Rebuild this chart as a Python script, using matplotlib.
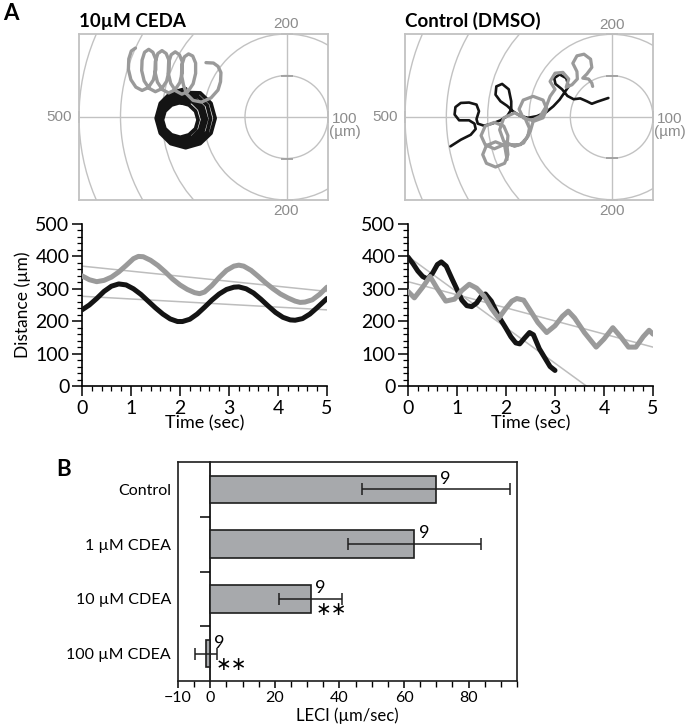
import matplotlib
matplotlib.use('Agg')
import matplotlib.pyplot as plt
import numpy as np
from matplotlib.patches import Circle
from matplotlib.ticker import MultipleLocator

plt.rcParams['font.family'] = ['Lato', 'DejaVu Sans']

# ---------------- panel A: tracks around the target (um) ----------------
ring_radii = [100, 200, 300, 400, 500]

ceda_gray_x = [-364, -374, -380, -381, -375, -363, -348, -333, -321, -315, -315, -322,
               -332, -342, -348, -349, -343, -331, -316, -301, -289, -283, -283, -290,
               -300, -310, -316, -317, -311, -299, -284, -269, -257, -251, -251, -258,
               -268, -278, -284, -285, -279, -267, -252, -237, -225, -219, -219, -226,
               -236, -246, -252, -253, -248, -240, -225, -205, -182, -165, -159, -158,
               -165, -176, -194]
ceda_gray_y = [166, 159, 140, 115, 90, 72, 64, 71, 89, 114, 139, 156,
               163, 156, 137, 112, 87, 69, 61, 68, 86, 111, 136, 153,
               160, 153, 134, 109, 84, 66, 58, 65, 83, 108, 133, 150,
               157, 150, 131, 106, 81, 63, 55, 62, 80, 105, 130, 147,
               152, 145, 126, 101, 76, 55, 40, 36, 46, 65, 85, 107,
               122, 130, 131]

ceda_black_x = [-243, -279, -304, -314, -304, -279, -243, -208, -182, -172, -182, -208,
                -246, -278, -301, -309, -301, -278, -246, -215, -191, -183, -191, -215,
                -249, -277, -297, -305, -297, -277, -249, -221, -201, -193, -201, -221,
                -252, -277, -295, -302, -295, -277, -252, -227, -209, -202, -209, -227,
                -256, -277, -293, -299, -293, -277, -256, -235, -219, -213, -219, -235, -256]
ceda_black_y = [68, 58, 33, -3, -39, -64, -74, -64, -39, -3, 33, 58,
                59, 51, 28, -4, -36, -59, -67, -59, -36, -4, 28, 51,
                51, 44, 23, -5, -33, -53, -61, -53, -33, -5, 23, 44,
                44, 37, 19, -6, -31, -49, -56, -49, -31, -6, 19, 37,
                35, 29, 14, -7, -28, -43, -49, -43, -28, -7, 14, 29, 35]

ctrl_gray_x = [-253, -259, -281, -303, -312, -303, -281, -259, -251, -253,
               -251, -261, -284, -306, -316, -306, -284, -261, -241,
               -221, -203, -199, -210, -235, -261, -271, -261, -235, -213, -197,
               -190, -166, -157, -166, -190, -214, -224, -214, -193, -173,
               -158, -149, -137, -149, -137, -118, -104, -110, -96, -83,
               -84, -94, -84, -67, -51, -48, -60, -70, -56, -48, -46]
ctrl_gray_y = [-103, -69, -60, -69, -91, -112, -121, -112, -91, -71,
               -45, -22, -13, -22, -45, -67, -77, -67, -67,
               -67, -48, -27, -2, 10, -2, -31, -59, -71, -63, -35,
               -11, -2, 19, 41, 50, 41, 19, -2, -8, 2,
               26, 50, 67, 86, 106, 108, 92, 72, 78, 92,
               110, 130, 148, 152, 140, 120, 104, 94, 92, 82, 74]

ctrl_black_x = [-390, -365, -341, -329, -332, -345, -369, -380, -378, -365, -345, -327,
                -321, -327, -324, -309, -289, -269, -253, -243, -243, -249, -265, -279,
                -281, -269, -253, -239, -222, -203, -181, -158, -141, -126, -115, -104,
                -110, -126, -139, -136, -120, -107, -92, -76, -60, -48, -35, -20, -8]
ctrl_black_y = [-71, -55, -43, -29, -16, -8, -8, 6, 24, 34, 35, 30,
                14, -5, -16, -21, -16, -8, 2, 18, 38, 67, 80, 74,
                54, 38, 27, 14, 3, -2, 2, 12, 26, 42, 58, 74,
                94, 103, 94, 80, 67, 51, 43, 45, 38, 32, 37, 42, 46]

# ---------------- panel A: distance vs time ----------------
ceda_t_gray = [0, 0.15, 0.3, 0.45, 0.6, 0.75, 0.9, 1.05, 1.15, 1.25, 1.4, 1.55, 1.7, 1.85,
               2.0, 2.15, 2.3, 2.4, 2.5, 2.65, 2.8, 2.95, 3.1, 3.2, 3.3, 3.45, 3.6, 3.75,
               3.9, 4.05, 4.2, 4.35, 4.45, 4.55, 4.7, 4.85, 5.0]
ceda_d_gray = [340, 328, 322, 326, 336, 352, 372, 393, 400, 399, 388, 372, 352, 330,
               312, 298, 288, 285, 290, 310, 335, 357, 370, 373, 370, 357, 338, 318,
               300, 284, 272, 262, 258, 259, 266, 283, 305]
ceda_t_black = [0, 0.15, 0.3, 0.45, 0.6, 0.75, 0.9, 1.05, 1.2, 1.35, 1.5, 1.65, 1.8, 1.95,
                2.05, 2.2, 2.35, 2.5, 2.65, 2.8, 2.95, 3.1, 3.2, 3.35, 3.5, 3.65, 3.8,
                3.95, 4.1, 4.25, 4.35, 4.5, 4.65, 4.8, 5.0]
ceda_d_black = [235, 250, 270, 292, 308, 315, 312, 300, 283, 262, 241, 222, 207, 199,
                199, 206, 222, 243, 265, 284, 298, 305, 306, 300, 287, 268, 247,
                227, 212, 204, 203, 208, 222, 242, 270]

ctrl_t_black = [0, 0.1, 0.2, 0.3, 0.4, 0.5, 0.6, 0.68, 0.78, 0.9, 1.0, 1.1, 1.2, 1.3,
                1.4, 1.5, 1.58, 1.7, 1.85, 2.0, 2.1, 2.2, 2.28, 2.38, 2.48, 2.56, 2.68,
                2.8, 2.9, 3.0]
ctrl_d_black = [398, 378, 355, 338, 330, 348, 375, 383, 370, 330, 298, 265, 248, 245,
                256, 278, 284, 262, 215, 178, 152, 133, 130, 148, 165, 158, 115,
                85, 60, 48]
ctrl_t_gray = [0, 0.13, 0.3, 0.45, 0.6, 0.77, 0.95, 1.1, 1.25, 1.4, 1.55, 1.7, 1.85, 2.0,
               2.12, 2.22, 2.36, 2.5, 2.65, 2.83, 3.0, 3.15, 3.27, 3.4, 3.6, 3.84, 4.0,
               4.18, 4.35, 4.5, 4.65, 4.8, 4.92, 5.0]
ctrl_d_gray = [292, 272, 305, 338, 300, 262, 268, 295, 314, 302, 278, 240, 209, 240,
               262, 270, 265, 232, 196, 165, 186, 215, 231, 210, 165, 120, 145,
               180, 150, 120, 120, 152, 172, 160]

# linear fits (start/end)
ceda_fit_t = [0, 5]
ceda_fit_gray = [370, 292]
ceda_fit_black = [277, 235]
ctrl_fit_t_black = [0, 3.64]
ctrl_fit_black = [400, 0]
ctrl_fit_t_gray = [0, 5]
ctrl_fit_gray = [322, 120]

# ---------------- panel B ----------------
groups = ['Control', '1 µM CDEA', '10 µM CDEA', '100 µM CDEA']
leci = [69.9, 63.2, 31.1, -1.2]
leci_sd = [23.0, 20.5, 9.8, 3.4]
n_cells = [9, 9, 9, 9]
stars = ['', '', '∗∗', '∗∗']

W, H = 685, 726
fig = plt.figure(figsize=(W / 100, H / 100), dpi=100)


def px_axes(x0, y0, x1, y1):
    return fig.add_axes([x0 / W, 1 - y1 / H, (x1 - x0) / W, (y1 - y0) / H])


GRID = '#c2c2c2'
LAB = '#8c8c8c'
GRAY = '#9a9a9a'
BLACK = '#141414'


def target(ax):
    for r in ring_radii:
        ax.add_patch(Circle((0, 0), r, fill=False, ec=GRID, lw=1.0, zorder=1))
    ax.axhline(0, color=GRID, lw=1.0, zorder=1)
    ax.axvline(0, color=GRID, lw=1.0, zorder=1)
    ax.plot([0, 0, 0, 0], [-200, -100, 100, 200], ls='none', marker='_', ms=9,
            mew=1.3, color='#a0a0a0', zorder=1, clip_on=False)
    ax.plot([-500, 100], [0, 0], ls='none', marker='|', ms=9,
            mew=1.3, color='#a0a0a0', zorder=1, clip_on=False)
    ax.set_xlim(-500, 100)
    ax.set_ylim(-200, 200)
    ax.set_aspect('equal')
    ax.set_xticks([])
    ax.set_yticks([])
    for s in ax.spines.values():
        s.set_color(GRID)
        s.set_linewidth(1.3)
    kw = dict(textcoords='offset points', color=LAB, fontsize=11,
              family=['Liberation Sans', 'DejaVu Sans'], annotation_clip=False)
    ax.annotate('200', (0, 200), (0, 2), ha='center', va='bottom', **kw)
    ax.annotate('200', (0, -200), (0, -3), ha='center', va='top', **kw)
    ax.annotate('500', (-500, 0), (-5, 0), ha='right', va='center', **kw)
    ax.annotate('100\n(µm)', (100, 0), (0.5, -6), ha='left', va='center',
                multialignment='center', linespacing=0.95, **kw)


ax1 = px_axes(79, 34, 328, 200)
target(ax1)
ax1.plot(ceda_black_x, ceda_black_y, color=BLACK, lw=2.7, zorder=3,
         solid_joinstyle='round', solid_capstyle='round')
ax1.plot(ceda_gray_x, ceda_gray_y, color=GRAY, lw=2.4, zorder=4,
         solid_joinstyle='round', solid_capstyle='round')

ax2 = px_axes(405, 34, 653, 200)
target(ax2)
ax2.plot(ctrl_black_x, ctrl_black_y, color=BLACK, lw=1.9, zorder=3,
         solid_joinstyle='round', solid_capstyle='round')
ax2.plot(ctrl_gray_x, ctrl_gray_y, color=GRAY, lw=2.3, zorder=4,
         solid_joinstyle='round', solid_capstyle='round')


def distance_axes(ax):
    ax.set_xlim(0, 5)
    ax.set_ylim(0, 500)
    ax.spines['top'].set_visible(False)
    ax.spines['right'].set_visible(False)
    for s in ('left', 'bottom'):
        ax.spines[s].set_linewidth(1.2)
    ax.xaxis.set_major_locator(MultipleLocator(1))
    ax.xaxis.set_minor_locator(MultipleLocator(0.2))
    ax.yaxis.set_major_locator(MultipleLocator(100))
    ax.yaxis.set_minor_locator(MultipleLocator(20))
    ax.tick_params(which='major', length=7, width=1.1, labelsize=14, pad=2)
    ax.tick_params(axis='x', which='major', pad=3)
    ax.tick_params(which='minor', length=3.5, width=0.9)
    ax.set_xlabel('Time (sec)', fontsize=13, labelpad=-1)


ax3 = px_axes(82, 224, 327, 386)
distance_axes(ax3)
ax3.plot(ceda_fit_t, ceda_fit_gray, color='#bdbdbd', lw=1.1, zorder=2)
ax3.plot(ceda_fit_t, ceda_fit_black, color='#bdbdbd', lw=1.1, zorder=2)
ax3.plot(ceda_t_gray, ceda_d_gray, color=GRAY, lw=3.6, zorder=3,
         solid_joinstyle='round', solid_capstyle='round')
ax3.plot(ceda_t_black, ceda_d_black, color=BLACK, lw=3.6, zorder=4,
         solid_joinstyle='round', solid_capstyle='round')
ax3.set_ylabel('Distance (µm)', fontsize=12.5, labelpad=3)

ax4 = px_axes(408, 224, 653, 386)
distance_axes(ax4)
ax4.plot(ctrl_fit_t_black, ctrl_fit_black, color='#bdbdbd', lw=1.1, zorder=2)
ax4.plot(ctrl_fit_t_gray, ctrl_fit_gray, color='#bdbdbd', lw=1.1, zorder=2)
ax4.plot(ctrl_t_black, ctrl_d_black, color=BLACK, lw=3.6, zorder=3,
         solid_joinstyle='round', solid_capstyle='round')
ax4.plot(ctrl_t_gray, ctrl_d_gray, color=GRAY, lw=3.6, zorder=4,
         solid_joinstyle='round', solid_capstyle='round')

fig.text(3 / W, 1 - 20 / H, 'A', fontsize=16, fontweight='bold', va='baseline')
fig.text(79 / W, 1 - 27 / H, '10µM CEDA', fontsize=13.5, fontweight='bold', va='baseline')
fig.text(405 / W, 1 - 27 / H, 'Control (DMSO)', fontsize=13.5, fontweight='bold', va='baseline')
fig.text(56 / W, 1 - 476 / H, 'B', fontsize=16, fontweight='bold', va='baseline')

# ---------------- bar chart ----------------
ax5 = px_axes(178, 462, 517, 681)
ypos = np.arange(len(groups))
ax5.barh(ypos, leci, height=0.5, color='#a7a9ac', edgecolor='#1e1e1e', lw=1.2, zorder=3)
ax5.errorbar(leci, ypos, xerr=leci_sd, fmt='none', ecolor='#1e1e1e',
             elinewidth=1.1, capsize=4.5, capthick=1.1, zorder=4)
for i, (v, n, s) in enumerate(zip(leci, n_cells, stars)):
    ax5.text(max(v, 0) + 1.3, i - 0.05, str(n), ha='left', va='bottom', fontsize=13)
    if s:
        ax5.text(max(v, 0) + 1.5, i + 0.2, s, ha='left', va='center', fontsize=13.5,
                 family='DejaVu Sans')
xlim = (-10, 95)
ax5.set_xlim(*xlim)
ax5.set_ylim(3.5, -0.5)
ax5.set_yticks(ypos, groups)
ax5.tick_params(axis='y', length=0, labelsize=11.5, pad=5)
ax5.set_xticks([-10, 0, 20, 40, 60, 80])
ax5.xaxis.set_minor_locator(MultipleLocator(5))
ax5.tick_params(axis='x', which='major', length=5, width=1.1, labelsize=11.5, pad=2)
ax5.tick_params(axis='x', which='minor', length=4, width=1.0)
for sp in ax5.spines.values():
    sp.set_linewidth(1.2)
    sp.set_color('#1e1e1e')
ax5.set_xlabel('LECI (µm/sec)', fontsize=12, labelpad=2)

zero = ax5.secondary_yaxis((0 - xlim[0]) / (xlim[1] - xlim[0]))
zero.set_yticks([0.5, 1.5, 2.5], labels=[])
zero.tick_params(length=7, width=1.1, direction='out')
zero.spines['left'].set_linewidth(1.2)

fig.savefig('out.png', dpi=100)
